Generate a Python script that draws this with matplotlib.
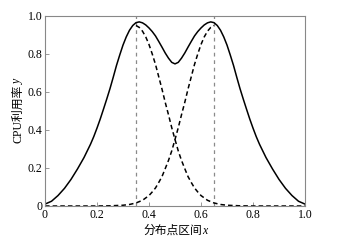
import matplotlib
matplotlib.use("Agg")
import matplotlib.pyplot as plt

plt.rcParams['font.family'] = ['Liberation Serif', 'Noto Sans CJK SC']

# solid curve (CPU utilisation)
x_solid = [0.0, 0.025, 0.05, 0.075, 0.1, 0.125, 0.15, 0.175, 0.1875, 0.2, 0.2125,
           0.225, 0.2375, 0.25, 0.2625, 0.275, 0.2875, 0.3, 0.3125, 0.325, 0.3375,
           0.35, 0.3625, 0.375, 0.3875, 0.4, 0.4125, 0.425, 0.4375, 0.45, 0.4625,
           0.475, 0.4875, 0.5,
           0.5125, 0.525, 0.5375, 0.55, 0.5625, 0.575, 0.5875, 0.6, 0.6125, 0.625,
           0.6375, 0.65, 0.6625, 0.675, 0.6875, 0.7, 0.7125, 0.725, 0.7375, 0.75,
           0.7625, 0.775, 0.7875, 0.8, 0.8125, 0.825, 0.85, 0.875, 0.9, 0.925,
           0.95, 0.975, 1.0]
y_solid = [0.01, 0.025, 0.055, 0.093, 0.14, 0.195, 0.255, 0.325, 0.365, 0.41, 0.458,
           0.51, 0.563, 0.618, 0.678, 0.74, 0.795, 0.847, 0.89, 0.925, 0.950,
           0.965, 0.969, 0.964, 0.953, 0.937, 0.918, 0.895, 0.866, 0.836, 0.805,
           0.778, 0.756, 0.748,
           0.756, 0.778, 0.805, 0.836, 0.866, 0.895, 0.918, 0.937, 0.953, 0.964,
           0.969, 0.965, 0.950, 0.925, 0.89, 0.847, 0.795, 0.74, 0.678, 0.618,
           0.563, 0.51, 0.458, 0.41, 0.365, 0.325, 0.255, 0.195, 0.14, 0.093,
           0.055, 0.025, 0.01]

# right half of the dashed curve peaked at 0.35
x_right = [0.35, 0.3625, 0.375, 0.3875, 0.4, 0.4125, 0.425, 0.4375, 0.45, 0.4625,
           0.475, 0.4875, 0.5, 0.5125, 0.525, 0.5375, 0.55, 0.5625, 0.575, 0.5875,
           0.6, 0.625, 0.65, 0.675, 0.7, 0.75, 0.8, 1.0]
y_right = [0.95, 0.94, 0.92, 0.89, 0.85, 0.80, 0.745, 0.68, 0.615, 0.545,
           0.48, 0.412, 0.35, 0.29, 0.24, 0.197, 0.155, 0.124, 0.095, 0.074,
           0.055, 0.03, 0.016, 0.008, 0.004, 0.001, 0.0, 0.0]

# left half of the dashed curve peaked at 0.65
x_left = [0.0, 0.2, 0.25, 0.3, 0.325, 0.35, 0.375, 0.4, 0.4125, 0.425, 0.4375,
          0.45, 0.4625, 0.475, 0.4875, 0.5, 0.5125, 0.525, 0.5375, 0.55, 0.5625,
          0.575, 0.5875, 0.6, 0.6125, 0.625, 0.6375, 0.65]
y_left = [0.0, 0.0, 0.001, 0.004, 0.008, 0.016, 0.03, 0.055, 0.074, 0.095, 0.124,
          0.155, 0.197, 0.24, 0.29, 0.35, 0.412, 0.48, 0.545, 0.615, 0.68,
          0.745, 0.80, 0.85, 0.89, 0.92, 0.94, 0.95]

vlines_x = [0.35, 0.65]
ticks = [0, 0.2, 0.4, 0.6, 0.8, 1.0]
tick_labels = ['0', '0.2', '0.4', '0.6', '0.8', '1.0']

W, H = 350, 246
fig = plt.figure(figsize=(3.5, 2.46), dpi=100)
ax = fig.add_axes([45 / W, 1 - 206 / H, 260 / W, 190 / H])

for vx in vlines_x:
    ax.plot([vx, vx], [0, 1.0], color='#8a8a8a', lw=0.9, dashes=(3, 3))
ax.plot(x_left, y_left, color='black', lw=1.1, dashes=(3, 2))
ax.plot(x_right, y_right, color='black', lw=1.1, dashes=(3, 2))
ax.plot(x_solid, y_solid, color='black', lw=1.1)

ax.set_xlim(0, 1)
ax.set_ylim(0, 1)
ax.set_xticks(ticks)
ax.set_xticklabels(tick_labels)
ax.set_yticks(ticks)
ax.set_yticklabels(tick_labels)
ax.tick_params(direction='in', length=3, width=0.6, colors='#888888',
               labelcolor='black', labelsize=8.5, pad=2)
for s in ax.spines.values():
    s.set_color('#888888')
    s.set_linewidth(0.8)

renderer = fig.canvas.get_renderer()
fs = 8.5


def px(xp, yp):
    return xp / W, 1 - yp / H


# x axis label: Chinese text followed by italic x
t1 = fig.text(0, 0, '分布点区间', fontsize=fs, ha='left', va='baseline')
t2 = fig.text(0, 0, 'x', fontsize=fs, style='italic', ha='left', va='baseline')
w1 = t1.get_window_extent(renderer).width
w2 = t2.get_window_extent(renderer).width
x0 = 175 - (w1 + w2) / 2
base = 234
t1.set_position(px(x0, base))
t2.set_position(px(x0 + w1, base))

# y axis label: rotated, reading upward
u1 = fig.text(0, 0, 'CPU利用率', fontsize=fs, ha='left', va='baseline',
              rotation=90, rotation_mode='anchor')
u2 = fig.text(0, 0, 'y', fontsize=fs, style='italic', ha='left', va='baseline',
              rotation=90, rotation_mode='anchor')
h1 = u1.get_window_extent(renderer).height
h2 = u2.get_window_extent(renderer).height
y0 = 111 + (h1 + h2) / 2
xb = 21
u1.set_position(px(xb, y0))
u2.set_position(px(xb, y0 - h1))

fig.savefig('out.png', dpi=100)
